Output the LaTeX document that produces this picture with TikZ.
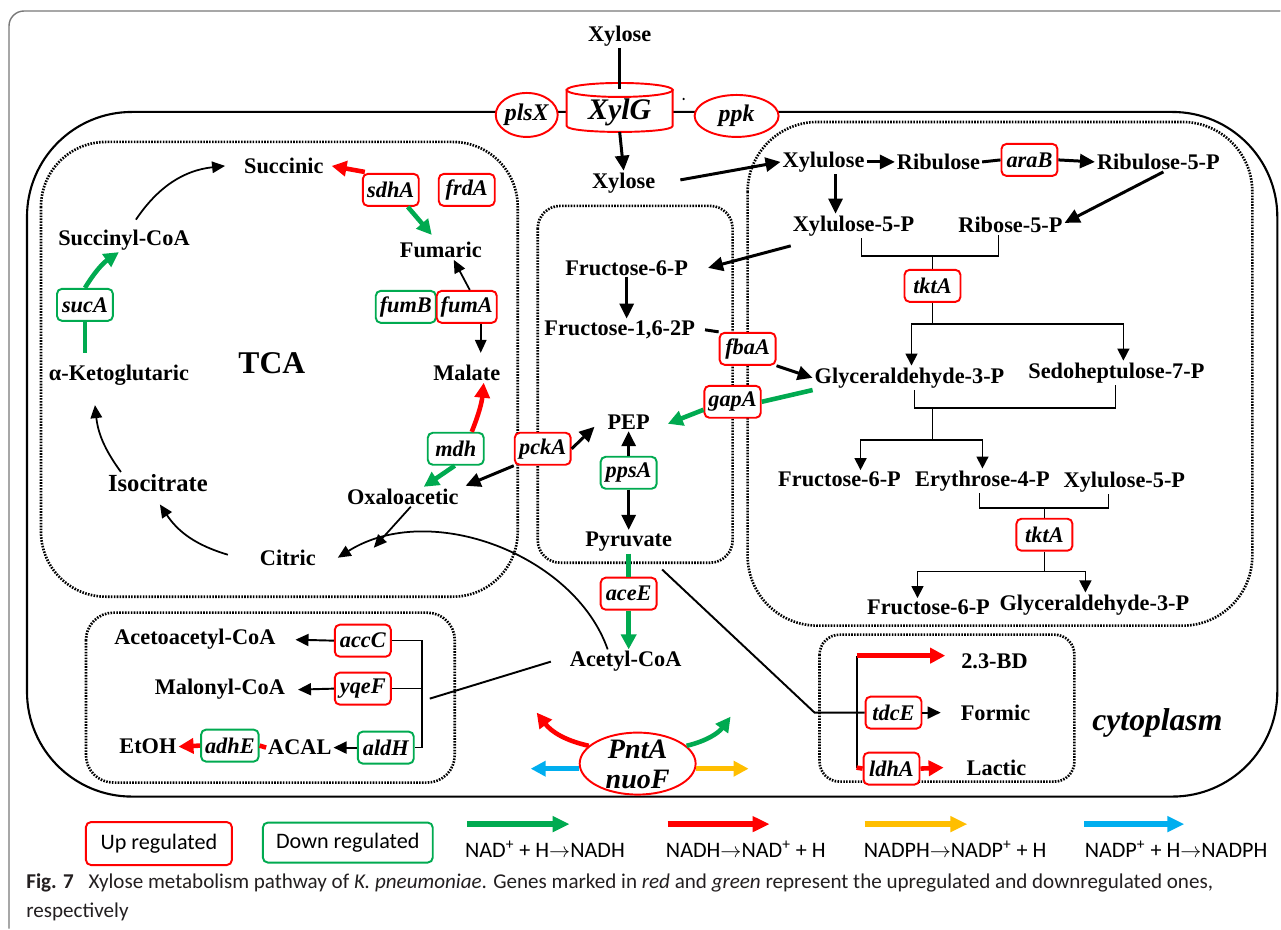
\documentclass[tikz,border=0pt]{standalone}
\usepackage{fontspec}
\setmainfont{Liberation Serif}
\newfontfamily\capfont{Carlito}
\usepackage{tikz}
\usetikzlibrary{arrows.meta, shapes.geometric, calc, positioning}

\definecolor{upred}{RGB}{255,0,0}
\definecolor{dngreen}{RGB}{0,170,80}
\definecolor{nadpyel}{RGB}{255,190,0}
\definecolor{nadpblue}{RGB}{0,174,239}
\definecolor{framegray}{RGB}{120,120,120}
\definecolor{capgray}{RGB}{35,31,32}

\newcommand{\metfont}{\fontsize{12.7}{14}\selectfont\bfseries}
\newcommand{\genefont}{\fontsize{12.7}{14}\selectfont\bfseries\itshape}
\newcommand{\legfont}{\capfont\fontsize{12.6}{14}\selectfont}

\tikzset{
  met/.style={font=\metfont, inner sep=1pt},
  upgene/.style={draw=upred, line width=1.1pt, rounded corners=1mm, fill=white,
    font=\genefont, minimum height=6.4mm, minimum width=11.2mm, inner xsep=0.8mm, inner ysep=0.5mm},
  downgene/.style={upgene, draw=dngreen},
  mainflow/.style={-{Triangle[length=3mm,width=2.8mm]}, line width=1.7pt},
  thinflow/.style={-{Triangle[length=2.6mm,width=2.3mm]}, line width=1pt},
  sideflow/.style={-{Triangle[length=2.6mm,width=2.4mm]}, line width=1.1pt},
  treeline/.style={line width=0.9pt},
  treearrow/.style={treeline, -{Triangle[length=2.4mm,width=2.4mm]}},
  colline/.style={line width=2.6pt, draw=#1},
  colflow/.style={-{Triangle[length=3mm,width=3mm]}, line width=2.6pt, draw=#1},
  legflow/.style={-{Triangle[length=3.4mm,width=3mm]}, line width=3.2pt, draw=#1},
  compart/.style={line width=1.5pt, dash pattern=on 0.9pt off 0.75pt, rounded corners=#1},
}

\begin{document}
\begin{tikzpicture}[x=0.2mm, y=-0.2mm]
  \fill[white] (0,0) rectangle (1281,929);
  % figure frame and the cell
  \draw[framegray, line width=0.8pt, rounded corners=3mm] (1281,11) -- (9,11) -- (9,929);
  \draw[line width=1.2pt, rounded corners=21mm] (27,112) rectangle (1278,797);

  % compartments (dotted)
  \draw[compart=13mm] (41,142) rectangle (518,597);
  \draw[compart=4.5mm] (538,206) rectangle (733,563);
  \draw[compart=14mm] (748,122) rectangle (1253,626);
  \draw[compart=5.5mm] (86,613) rectangle (455,783);
  \draw[compart=4mm] (820,635) rectangle (1075,782);

  % membrane transporter and enzymes
  \filldraw[draw=upred, fill=white, line width=1.1pt] (567,90) -- (567,126)
      .. controls (567,134) and (673,134) .. (673,126) -- (673,90) -- cycle;
  \filldraw[draw=upred, fill=white, line width=1.1pt] (620,90) ellipse [x radius=53, y radius=7];
  \node[font=\fontsize{17}{19}\selectfont\bfseries\itshape] (xylG) at (620,112) {XylG};
  \coordinate (cyltop) at (620,89);
  \coordinate (cylbot) at (620,132);
  \node[ellipse, draw=upred, fill=white, line width=1.1pt, minimum width=12.2mm, minimum height=8.8mm,
    inner sep=0pt, font=\fontsize{13.6}{15}\selectfont\bfseries\itshape] (plsX) at (527,115) {plsX};
  \node[ellipse, draw=upred, fill=white, line width=1.1pt, minimum width=16.8mm, minimum height=8.4mm,
    inner sep=0pt, font=\fontsize{13.6}{15}\selectfont\bfseries\itshape] (ppk) at (737,116) {ppk};
  \node[circle, fill, inner sep=0.5pt] (dot) at (684,99) {};

  % metabolites
  \node[met] (xylout) at (620,36) {Xylose};
  \node[met] (xylin) at (624,183) {Xylose};
  \node[met] (xylu) at (824,162) {Xylulose};
  \node[met] (ribu) at (939,162) {Ribulose};
  \node[met] (ru5p) at (1159,162) {Ribulose-5-P};
  \node[met] (xu5p) at (854,226) {Xylulose-5-P};
  \node[met] (r5p) at (1011,225) {Ribose-5-P};
  \node[met] (g3p) at (910,378) {Glyceraldehyde-3-P};
  \node[met] (s7p) at (1117,373) {Sedoheptulose-7-P};
  \node[met] (f6pb) at (840,480) {Fructose-6-P};
  \node[met] (e4p) at (983,481) {Erythrose-4-P};
  \node[met] (xu5pb) at (1125,482) {Xylulose-5-P};
  \node[met] (f6pc) at (929,608) {Fructose-6-P};
  \node[met] (g3pc) at (1095,605) {Glyceraldehyde-3-P};
  \node[met] (f6p) at (627,268) {Fructose-6-P};
  \node[met] (fbp) at (620,330) {Fructose-1,6-2P};
  \node[met] (pep) at (629,422) {PEP};
  \node[met] (pyr) at (629,542) {Pyruvate};
  \node[met] (accoa) at (626,662) {Acetyl-CoA};
  \node[met] (succ) at (284,166) {Succinic};
  \node[met] (fum) at (441,250) {Fumaric};
  \node[met] (mal) at (467,373) {Malate};
  \node[met] (oaa) at (403,497) {Oxaloacetic};
  \node[met] (cit) at (288,558) {Citric};
  \node[met, font=\fontsize{14}{16}\selectfont\bfseries] (icit) at (158,483) {Isocitrate};
  \node[met] (akg) at (119,375) {α-Ketoglutaric};
  \node[met] (succoa) at (124,240) {Succinyl-CoA};
  \node[met, font=\fontsize{18}{20}\selectfont\bfseries] (tca) at (272,363) {TCA};
  \node[met] (aacoa) at (195,640) {Acetoacetyl-CoA};
  \node[met] (malcoa) at (220,690) {Malonyl-CoA};
  \node[met] (acal) at (300,748) {ACAL};
  \node[met] (etoh) at (148,747) {EtOH};
  \node[met] (bd) at (995,662) {2.3-BD};
  \node[met] (form) at (996,713) {Formic};
  \node[met] (lac) at (997,768) {Lactic};
  \node[met, font=\fontsize{18}{20}\selectfont\bfseries\itshape] (cyto) at (1158,723) {cytoplasm};

  % genes
  \node[upgene] (sdhA) at (391,190) {sdhA};
  \node[upgene] (frdA) at (467,190) {frdA};
  \node[downgene] (fumB) at (406,307) {fumB};
  \node[upgene] (fumA) at (467,307) {fumA};
  \node[downgene] (sucA) at (85,305) {sucA};
  \node[downgene] (mdh) at (456,449) {mdh};
  \node[upgene] (pckA) at (543,449) {pckA};
  \node[upgene] (fbaA) at (748,349) {fbaA};
  \node[upgene] (gapA) at (733,402) {gapA};
  \node[downgene] (ppsA) at (629,473) {ppsA};
  \node[upgene] (aceE) at (629,594) {aceE};
  \node[upgene] (araB) at (1030,160) {araB};
  \node[upgene] (tktA) at (933,286) {tktA};
  \node[upgene] (tktB) at (1045,535) {tktA};
  \node[upgene] (accC) at (363,641) {accC};
  \node[upgene] (yqeF) at (363,689) {yqeF};
  \node[downgene] (aldH) at (386,748) {aldH};
  \node[downgene] (adhE) at (230,746) {adhE};
  \node[upgene] (tdcE) at (894,713) {tdcE};
  \node[upgene] (ldhA) at (892,769) {ldhA};

  % xylose uptake and pentose phosphate pathway
  \draw[line width=1.4pt] (xylout.south) -- (cyltop);
  \draw[mainflow] (cylbot) -- (xylin.north);
  \draw[mainflow] ([xshift=4.6mm,yshift=0.6mm]xylin.east) -- (xylu.west);
  \draw[mainflow] (xylu.east) -- (ribu.west);
  \draw[line width=1.7pt] (ribu.east) -- (araB.west);
  \draw[mainflow] (araB.east) -- (ru5p.west);
  \draw[mainflow] ([xshift=2.4mm]xylu.south) -- ([xshift=2.4mm]xylu.south |- xu5p.north);
  \draw[mainflow] ([xshift=1mm]ru5p.south) -- ([yshift=0.4mm]r5p.east);

  \coordinate (pb1) at (933,256);
  \coordinate (pb2) at (933,324);
  \coordinate (pb3) at (933,408);
  \coordinate (pb4) at (933,440);
  \coordinate (pb5) at (1045,508);
  \coordinate (pb6) at (1045,572);
  \draw[treeline] ([xshift=1.6mm]xu5p.south) |- (pb1) -| ([xshift=-2.4mm]r5p.south);
  \draw[treeline] (pb1) -- (tktA.north);
  \draw[treeline] (tktA.south) -- (pb2);
  \draw[treearrow] (pb2) -| ([xshift=0.4mm]g3p.north);
  \draw[treearrow] (pb2) -| ([xshift=1.4mm]s7p.north);
  \draw[treeline] ([xshift=1mm]g3p.south) |- (pb3) -| ([xshift=-0.2mm]s7p.south);
  \draw[treeline] (pb3) -- (pb4);
  \draw[treearrow] (pb4) -| ([xshift=4.2mm]f6pb.north);
  \draw[treearrow] (pb4) -| (e4p.north);
  \draw[treeline] ([xshift=-0.6mm]e4p.south) |- (pb5) -| ([xshift=-3.2mm]xu5pb.south);
  \draw[treeline] (pb5) -- (tktB.north);
  \draw[treeline] (tktB.south) -- (pb6);
  \draw[treearrow] (pb6) -| ([xshift=-2.2mm]f6pc.north);
  \draw[treearrow] (pb6) -| ([xshift=-1.8mm]g3pc.north);

  % glycolysis
  \draw[mainflow] ([yshift=-4mm]xu5p.west) -- ([xshift=3.6mm]f6p.east);
  \draw[mainflow] (f6p.south) -- (f6p.south |- fbp.north);
  \draw[line width=1.7pt] ([xshift=1.6mm]fbp.east) -- (fbaA.north west);
  \draw[mainflow] (fbaA.south east) -- (g3p.west);
  \draw[colline=dngreen] (g3p.south west) -- (gapA.east);
  \draw[colflow=dngreen] ([yshift=-1.6mm]gapA.west) -- ([xshift=3.2mm,yshift=-0.4mm]pep.east);
  \draw[mainflow] (pckA.east) -- ([xshift=-2.2mm,yshift=-1mm]pep.west);
  \draw[mainflow] (pckA.south west) -- ([xshift=1mm,yshift=2.2mm]oaa.east);
  \draw[mainflow] (ppsA.north) -- (pep.south);
  \draw[mainflow] (ppsA.south) -- (pyr.north);
  \draw[colline=dngreen] (pyr.south) -- (aceE.north);
  \draw[colflow=dngreen] (aceE.south) -- (aceE.south |- accoa.north);

  % TCA cycle
  \draw[thinflow] ([xshift=2.4mm,yshift=1.6mm]succoa.north) to[bend left=25] ([xshift=-3.4mm]succ.west);
  \draw[colline=dngreen] ([yshift=2mm]sucA.south |- akg.north) -- (sucA.south);
  \draw[colflow=dngreen] (sucA.north) to[bend left=12] ([xshift=-1mm]succoa.south);
  \draw[thinflow] ([xshift=-7.4mm]icit.north) to[bend left=15] ([xshift=-4.8mm,yshift=-3.6mm]akg.south);
  \draw[thinflow] ([xshift=-6mm,yshift=0.6mm]cit.west) to[bend left=20] ([xshift=0.4mm,yshift=-2.2mm]icit.south);
  \draw[thinflow] ([xshift=1.6mm]oaa.south) -- ([xshift=11.2mm]cit.north east);
  \draw[thinflow] ([xshift=-3.6mm]accoa.north) .. controls (575,555) and (430,500) .. ([xshift=4mm]cit.east);
  \draw[colflow=upred] ([xshift=0.6mm,yshift=0.2mm]sdhA.north west) -- ([xshift=1.2mm]succ.east);
  \draw[colflow=dngreen] ([xshift=3.4mm]sdhA.south) -- ([xshift=-1.8mm,yshift=1mm]fum.north);
  \draw[thinflow] ([xshift=0.6mm]fumA.north) -- ([xshift=2.6mm]fum.south);
  \draw[thinflow, shorten >=2mm] ([xshift=2.8mm]fumA.south) -- ([xshift=2.8mm]fumA.south |- mal.north);
  \draw[colflow=upred] ([xshift=3.2mm]mdh.north) to[bend right=8] ([xshift=3.4mm]mal.south);
  \draw[colflow=dngreen] ([xshift=-0.2mm]mdh.south) -- ([xshift=4.2mm]oaa.north);

  % acetyl-CoA branches
  \coordinate (lb1) at (422,641);
  \coordinate (lb2) at (422,748);
  \coordinate (lb3) at (430,699);
  \draw[treeline] (accC.east) -- (lb1) -- (lb2) -- (aldH.east);
  \draw[treeline] (yqeF.east) -- (yqeF.east -| lb1);
  \draw[line width=1.1pt] ([xshift=-3.4mm]accoa.west) -- (lb3);
  \draw[sideflow] (accC.west) -- ([xshift=3.6mm]aacoa.east);
  \draw[sideflow] (yqeF.west) -- ([xshift=2.2mm]malcoa.east);
  \draw[sideflow] (aldH.west) -- (acal.east);
  \draw[colline=upred] (acal.west) -- (adhE.east);
  \draw[colflow=upred] (adhE.west) -- (etoh.east);

  % fermentation products
  \coordinate (fk) at (815,713);
  \coordinate (ft) at (857,656);
  \coordinate (fb) at (857,768);
  \draw[line width=1.1pt] ([xshift=-2.4mm,yshift=-3.2mm]pyr.south east) -- (fk) -- (tdcE.west);
  \draw[line width=1.1pt] (ft) -- (fb);
  \draw[colflow=upred] (ft) -- ([xshift=-2.8mm]bd.west |- ft);
  \draw[sideflow] (tdcE.east) -- ([xshift=-3.6mm]form.west);
  \draw[colline=upred] (fb) -- (ldhA.west);
  \draw[colflow=upred] (ldhA.east) -- ([xshift=-4.2mm]lac.west);

  % transhydrogenase
  \node[ellipse, draw=upred, fill=white, line width=1.1pt, minimum width=23.2mm, minimum height=12.4mm] (pnt) at (638,764) {};
  \node[align=center, font=\fontsize{16}{17}\selectfont\bfseries\itshape] (pntlbl) at (638,765) {PntA\\nuoF};
  \coordinate (pntr) at (537,713);
  \coordinate (pntg) at (731,717);
  \coordinate (pntb) at (531,769);
  \coordinate (pnty) at (749,769);
  \draw[colflow=upred] (pnt.160) to[bend left=20] (pntr);
  \draw[colflow=dngreen] (pnt.20) to[bend right=20] (pntg);
  \draw[colflow=nadpblue] (pnt.185) -- (pnt.185 -| pntb);
  \draw[colflow=nadpyel] (pnt.-5) -- (pnt.-5 -| pnty);

  % legend
  \node[draw=upred, line width=1.1pt, rounded corners=1mm, minimum width=29.2mm, minimum height=8.6mm, font=\legfont] (uplg) at (159,844) {Up regulated};
  \node[draw=dngreen, line width=1.1pt, rounded corners=1mm, minimum width=34mm, minimum height=8mm, font=\legfont] (dnlg) at (348,843) {Down regulated};
  \node[anchor=west, inner sep=0pt, font=\legfont] (lgnadh) at (465,850) {NAD\textsuperscript{+} + H$\rightarrow$NADH};
  \node[anchor=west, inner sep=0pt, font=\legfont] (lgnad) at (666,850) {NADH$\rightarrow$NAD\textsuperscript{+} + H};
  \node[anchor=west, inner sep=0pt, font=\legfont] (lgnadp) at (864,850) {NADPH$\rightarrow$NADP\textsuperscript{+} + H};
  \node[anchor=west, inner sep=0pt, font=\legfont] (lgnadph) at (1085,850) {NADP\textsuperscript{+} + H$\rightarrow$NADPH};
  \draw[legflow=dngreen] ([xshift=0.4mm,yshift=3.4mm]lgnadh.north west) -- ++(103,0);
  \draw[legflow=upred] ([xshift=0.4mm,yshift=3.4mm]lgnad.north west) -- ++(102,0);
  \draw[legflow=nadpyel] ([xshift=0.2mm,yshift=3.4mm]lgnadp.north west) -- ++(103,0);
  \draw[legflow=nadpblue] ([yshift=3.4mm]lgnadph.north west) -- ++(100,0);

  % caption
  \node[anchor=west, inner sep=0pt, text=capgray, font=\capfont\fontsize{12}{14}\selectfont] (cap1) at (26,883)
    {\textbf{Fig. 7}\hspace{0.7em}Xylose metabolism pathway of \textit{K. pneumoniae}. Genes marked in \textit{red} and \textit{green} represent the upregulated and downregulated ones,};
  \node[anchor=west, inner sep=0pt, text=capgray, font=\capfont\fontsize{12}{14}\selectfont] (cap2) at (26,912) {respectively};
\end{tikzpicture}
\end{document}
